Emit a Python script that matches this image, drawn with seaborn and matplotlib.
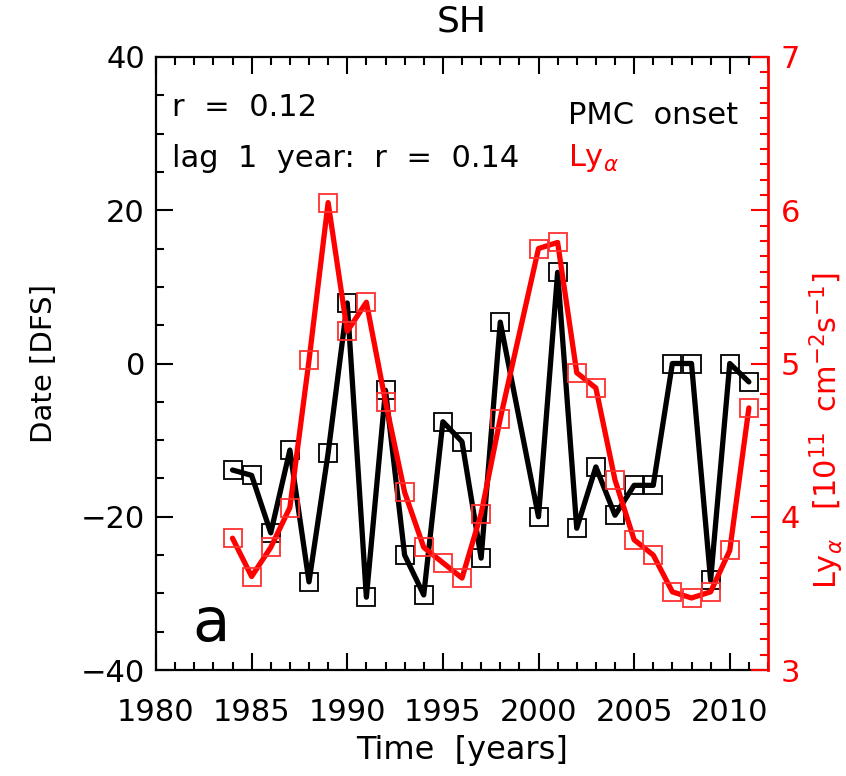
import numpy as np
import pandas as pd
import matplotlib
matplotlib.use("Agg")
import matplotlib.pyplot as plt
import seaborn as sns
from matplotlib.ticker import MultipleLocator

# ---- data ----
pmc_years = [1984, 1985, 1986, 1987, 1988, 1989, 1990, 1991, 1992, 1993, 1994, 1995,
             1996, 1997, 1998, 2000, 2001, 2002, 2003, 2004, 2005, 2006, 2007, 2008,
             2009, 2010, 2011]
pmc_onset = [-13.9, -14.6, -22.1, -11.3, -28.5, -11.7, 7.9, -30.5, -3.5, -25.0, -30.2, -7.6,
             -10.2, -25.4, 5.4, -20.0, 11.9, -21.5, -13.5, -19.8, -15.9, -15.9, 0.0, 0.0,
             -28.3, 0.0, -2.4]
lya_years = pmc_years
lya_values = [3.86, 3.61, 3.80, 4.06, 5.02, 6.05, 5.21, 5.40, 4.75, 4.16, 3.80, 3.70,
              3.60, 4.02, 4.64, 5.75, 5.79, 4.94, 4.84, 4.24, 3.85, 3.75, 3.51, 3.47,
              3.51, 3.78, 4.71]
x_ticks = [1980, 1985, 1990, 1995, 2000, 2005, 2010]
left_ticks = [-40, -20, 0, 20, 40]
right_ticks = [3, 4, 5, 6, 7]

df_pmc = pd.DataFrame({"year": pmc_years, "onset": pmc_onset})
df_lya = pd.DataFrame({"year": lya_years, "lya": lya_values})

sns.set_theme(style="ticks")
plt.rcParams['font.family'] = ['DejaVu Sans']
plt.rcParams['mathtext.fontset'] = 'dejavusans'
for k in ['text.color', 'axes.labelcolor', 'xtick.color', 'ytick.color', 'axes.edgecolor']:
    plt.rcParams[k] = 'black'
plt.rcParams['xtick.direction'] = 'in'
plt.rcParams['ytick.direction'] = 'in'

fig = plt.figure(figsize=(8.46, 7.76), dpi=100)
ax = fig.add_axes([156/846, 1-670/776, (768-156)/846, (670-57)/776])

sns.lineplot(data=df_pmc, x="year", y="onset", ax=ax, color="black", lw=3.8,
             marker="s", markersize=13.5, markerfacecolor="none",
             markeredgecolor="black", markeredgewidth=1.3, zorder=2)
ax.set_xlim(1980, 2012)
ax.set_ylim(-40, 40)

ax2 = ax.twinx()
sns.lineplot(data=df_lya, x="year", y="lya", ax=ax2, color="red", lw=3.8,
             marker="s", markersize=13.5, markerfacecolor="none",
             markeredgecolor="#ff3030", markeredgewidth=1.3, zorder=3)
ax2.set_ylim(3, 7)
ax2.set_xlim(1980, 2012)

# left / bottom / top axes (black)
ax.set_xticks(x_ticks)
ax.set_yticks(left_ticks)
ax.xaxis.set_minor_locator(MultipleLocator(1))
ax.yaxis.set_minor_locator(MultipleLocator(5))
ax.xaxis.set_ticks_position('both')
ax.yaxis.set_ticks_position('left')
ax.tick_params(axis="both", which="major", direction="in", length=12, width=1.5,
               labelsize=22, colors="black", pad=8)
ax.tick_params(axis="both", which="minor", direction="in", length=6, width=1.5,
               colors="black")
ax.tick_params(axis="x", which="both", top=True, bottom=True, labeltop=False,
               labelbottom=True)
ax.tick_params(axis="x", which="major", pad=20)
ax.tick_params(axis="y", which="both", left=True, right=False, labelleft=True)
for t in ax.xaxis.get_major_ticks() + ax.yaxis.get_major_ticks():
    t.tick1line.set_visible(True)
for s in ["left", "bottom", "top"]:
    ax.spines[s].set_color("black")
    ax.spines[s].set_linewidth(1.6)
ax.spines["right"].set_visible(False)
ax.set_xlabel("Time  [years]", fontsize=23, labelpad=6)
ax.set_ylabel("Date [DFS]", fontsize=21)
ax.yaxis.set_label_coords(-0.16, 0.5)
ax.set_title("SH", fontsize=26, pad=18)

# right axis (red)
ax2.set_yticks(right_ticks)
ax2.yaxis.set_minor_locator(MultipleLocator(0.1))
ax2.tick_params(axis="y", which="major", direction="in", length=12, width=1.5,
                labelsize=22, colors="red", pad=9)
ax2.tick_params(axis="y", which="minor", direction="in", length=6, width=1.5, colors="red")
for s in ["left", "bottom", "top"]:
    ax2.spines[s].set_visible(False)
ax2.spines["right"].set_color("red")
ax2.spines["right"].set_linewidth(2.0)
ax2.set_ylabel(r"Ly$_\alpha$   [10$^{11}$  cm$^{-2}$s$^{-1}$]", fontsize=22, color="red")
ax2.yaxis.set_label_coords(1.064, 0.39)
ax2.set_xlabel("")

ax.text(0.026, 0.917, "r  =  0.12", transform=ax.transAxes, fontsize=22,
        ha="left", va="center", color="black")
ax.text(0.026, 0.835, "lag  1  year:  r  =  0.14", transform=ax.transAxes, fontsize=22,
        ha="left", va="center", color="black")
ax.text(0.673, 0.905, "PMC  onset", transform=ax.transAxes, fontsize=22,
        ha="left", va="center", color="black")
ax.text(0.673, 0.835, r"Ly$_\alpha$", transform=ax.transAxes, fontsize=22,
        ha="left", va="center", color="red")
ax.text(0.09, 0.075, "a", transform=ax.transAxes, fontsize=44,
        ha="center", va="center", color="black")

fig.savefig("out.png", dpi=100)
